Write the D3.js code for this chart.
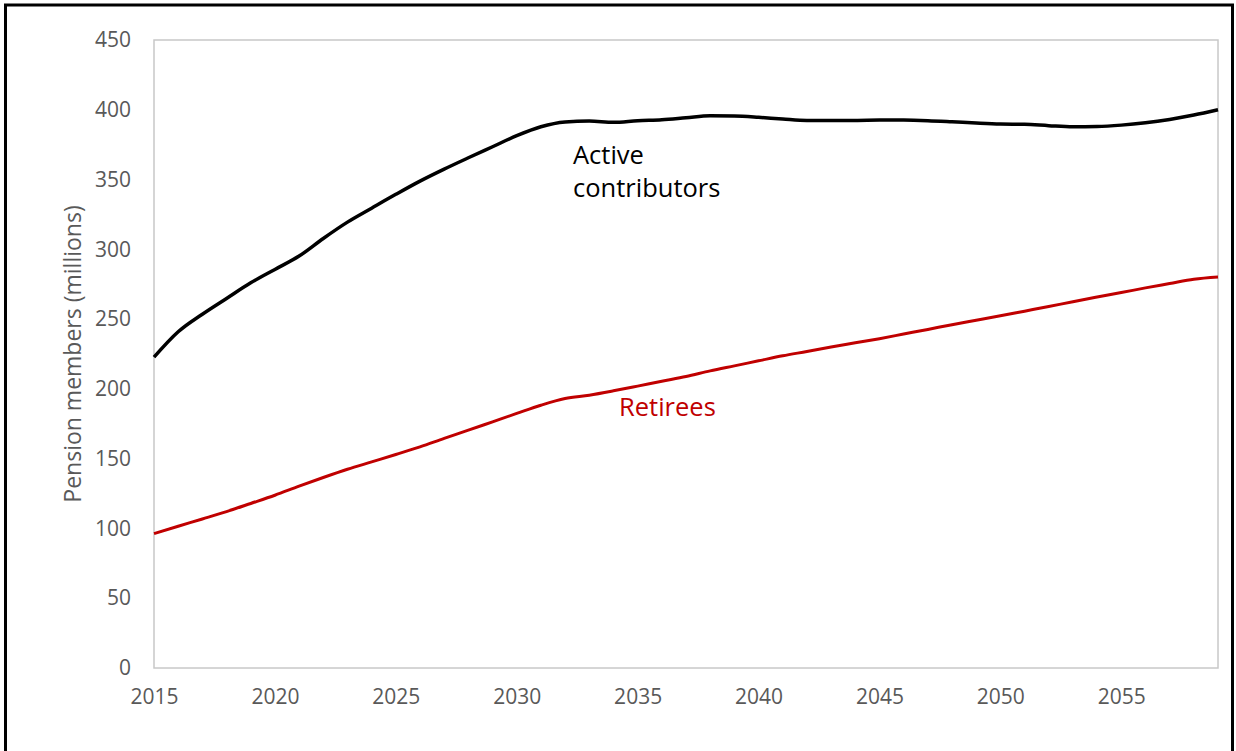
<!DOCTYPE html>
<html>
<head>
<meta charset="utf-8">
<script src="https://cdn.jsdelivr.net/npm/d3@7"></script>
<style>
  html, body { margin: 0; padding: 0; background: #fff; }
  svg text { font-family: "Open Sans", "Noto Sans", sans-serif; }
</style>
</head>
<body>
<div class="chart-wrapper"></div>
<script>
// years on the x axis
const years = d3.range(2015, 2060);

// active contributors, millions
const activeValues = [
  222.7, 240.9, 253.5, 264.8, 276.0, 285.6, 295.2, 307.8, 319.5, 329.5,
  339.4, 348.9, 357.5, 365.6, 373.5, 381.4, 387.8, 391.2, 391.9, 391.0,
  392.2, 392.9, 394.3, 395.7, 395.5, 394.6, 393.4, 392.4, 392.4, 392.4,
  392.6, 392.6, 392.2, 391.4, 390.5, 389.8, 389.6, 388.6, 387.8, 388.0,
  389.0, 390.7, 393.1, 396.2, 400.0
];

// retirees, millions
const retireeValues = [
  96.3, 101.6, 106.8, 112.1, 117.9, 123.8, 130.3, 136.5, 142.4, 147.7,
  153.0, 158.4, 164.5, 170.4, 176.4, 182.4, 188.3, 193.1, 195.5, 198.6,
  202.0, 205.5, 208.9, 212.9, 216.5, 220.1, 223.7, 226.8, 230.0, 233.0,
  236.0, 239.3, 242.6, 246.0, 249.2, 252.4, 255.7, 259.0, 262.5, 265.8,
  269.0, 272.4, 275.5, 278.6, 280.2
];

const xTicks = [2015, 2020, 2025, 2030, 2035, 2040, 2045, 2050, 2055];
const yTicks = [0, 50, 100, 150, 200, 250, 300, 350, 400, 450];

const width = 1236;
const height = 751;
const margin = {top: 40, right: 18, bottom: 83, left: 154};

const svg = d3.select('.chart-wrapper').append('svg')
.attr('width', width)
.attr('height', height)

// outer frame
svg.append('rect')
.attr('x', 5.5)
.attr('y', 5)
.attr('width', 1227)
.attr('height', 780)
.attr('fill', 'none')
.attr('stroke', '#000')
.attr('stroke-width', 3)

const x = d3.scaleLinear()
.domain([2015, 2059])
.range([margin.left, width - margin.right])

const y = d3.scaleLinear()
.domain([0, 450])
.range([height - margin.bottom, margin.top])

// plot box
svg.append('rect')
.attr('x', x(2015))
.attr('y', y(450))
.attr('width', x(2059) - x(2015))
.attr('height', y(0) - y(450))
.attr('fill', 'none')
.attr('stroke', '#c8c8c8')
.attr('stroke-width', 1.5)

const xAxis = svg.append('g')
.attr('transform', `translate(0,${y(0)})`)
.call(d3.axisBottom(x).tickValues(xTicks).tickFormat(d3.format('d')).tickSize(0).tickPadding(21))

const yAxis = svg.append('g')
.attr('transform', `translate(${x(2015)},0)`)
.call(d3.axisLeft(y).tickValues(yTicks).tickSize(0).tickPadding(23))

svg.selectAll('.domain').remove()
svg.selectAll('.tick text')
.attr('fill', '#595959')
.style('font-size', '21px')

svg.append('text')
.attr('transform', `translate(81,${(y(0) + y(450)) / 2}) rotate(-90)`)
.attr('text-anchor', 'middle')
.attr('fill', '#595959')
.style('font-size', '23px')
.text('Pension members (millions)')

const line = d3.line()
.x((d, i) => x(years[i]))
.y(d => y(d))
.curve(d3.curveMonotoneX)

svg.append('path')
.datum(retireeValues)
.attr('d', line)
.attr('fill', 'none')
.attr('stroke', '#c00000')
.attr('stroke-width', 3)

svg.append('path')
.datum(activeValues)
.attr('d', line)
.attr('fill', 'none')
.attr('stroke', '#000')
.attr('stroke-width', 3.5)

// series labels
const activeLabel = svg.append('text')
.attr('x', 573)
.attr('y', 164)
.attr('fill', '#000')
.style('font-size', '25.5px')

activeLabel.append('tspan').attr('x', 573).text('Active')
activeLabel.append('tspan').attr('x', 573).attr('dy', 33).text('contributors')

svg.append('text')
.attr('x', 619)
.attr('y', 416)
.attr('fill', '#c00000')
.style('font-size', '25.5px')
.text('Retirees')
</script>
</body>
</html>
